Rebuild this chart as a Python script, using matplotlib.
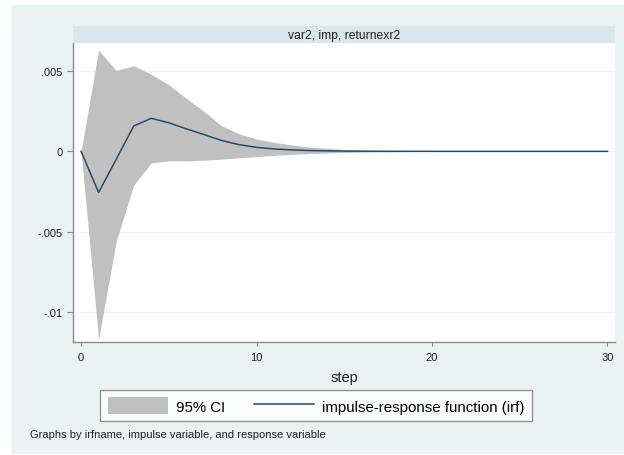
import numpy as np
import matplotlib
matplotlib.use("Agg")
import matplotlib.pyplot as plt
from matplotlib.patches import Rectangle

plt.rcParams['font.family'] = ['Liberation Sans', 'DejaVu Sans']

# data
steps = list(range(31))
irf = [0, -0.00256, -0.0005, 0.00158, 0.00206, 0.00178, 0.0014, 0.00105, 0.00068,
       0.00042, 0.00025, 0.00015, 0.00009, 0.00005, 0.00003, 0.00002, 0.00001,
       0.000006, 0.000003, 0.000002, 0.000001, 0, 0, 0, 0, 0, 0, 0, 0, 0, 0]
upper = [0, 0.0063, 0.00504, 0.00533, 0.0048, 0.00415, 0.0033, 0.0025, 0.0016,
         0.0011, 0.00077, 0.00056, 0.0004, 0.00027, 0.00019, 0.00012, 0.00008,
         0.00005, 0.00003, 0.00002, 0.00001, 0.000006, 0.000004, 0.000002,
         0.000001, 0, 0, 0, 0, 0, 0]
lower = [0, -0.0117, -0.0056, -0.0021, -0.00072, -0.00058, -0.0006, -0.00055,
         -0.00048, -0.0004, -0.00033, -0.00025, -0.00019, -0.00014, -0.0001,
         -0.00007, -0.00005, -0.00003, -0.00002, -0.00001, -0.000006, -0.000003,
         -0.000001, 0, 0, 0, 0, 0, 0, 0, 0]
yticks = [0.005, 0, -0.005, -0.01]
ytick_labels = [".005", "0", "-.005", "-.01"]
xticks = [0, 10, 20, 30]

W, H = 624, 456
fig = plt.figure(figsize=(W / 100, H / 100), dpi=100)
fig.patch.set_facecolor("white")

# graph region background
fig.add_artist(Rectangle((11 / W, 1 / H), 613 / W, 449 / H, transform=fig.transFigure,
                         facecolor="#eaf2f3", edgecolor="none", zorder=0))
# title strip
fig.add_artist(Rectangle((73 / W, 1 - 44 / H), 542 / W, 17 / H, transform=fig.transFigure,
                         facecolor="#d9e6eb", edgecolor="none", zorder=1))
fig.text(344 / W, 1 - 35.5 / H, "var2, imp, returnexr2", ha="center", va="center",
         fontsize=8.7, color="#222222")

ax = fig.add_axes([73 / W, 1 - 343 / H, 542 / W, 299 / H])
ax.set_facecolor("white")

ci = ax.fill_between(steps, lower, upper, color="#c0c0c0", linewidth=0, label="95% CI")
line, = ax.plot(steps, irf, color="#2a4a6b", linewidth=1.1,
                label="impulse-response function (irf)")

ax.set_xlim(-0.46, 30.43)
ax.set_ylim(-0.011875, 0.00675)
ax.set_yticks(yticks)
ax.set_yticklabels(ytick_labels)
ax.set_xticks(xticks)
ax.grid(axis="y", color="#eaf2f3", linewidth=0.9)
ax.set_axisbelow(True)

for s in ["top", "right"]:
    ax.spines[s].set_visible(False)
for s in ["left", "bottom"]:
    ax.spines[s].set_color("#8a8a8a")
    ax.spines[s].set_linewidth(1.0)
ax.tick_params(axis="both", colors="#8a8a8a", labelcolor="#222222", labelsize=8,
               length=4, width=0.8)
ax.tick_params(axis="x", length=3, pad=4)

ax.set_xlabel("step", fontsize=10.5, color="#222222", labelpad=6)

leg = fig.legend(handles=[ci, line], loc="center", bbox_to_anchor=(316 / W, 1 - 406.5 / H),
                 ncol=2, fontsize=10.8, frameon=True, fancybox=False, handlelength=4.0,
                 handleheight=1.3, handletextpad=0.55, columnspacing=1.9, borderpad=0.5,
                 borderaxespad=0)
leg.get_frame().set_edgecolor("#7a7a7a")
leg.get_frame().set_linewidth(1.0)
leg.get_frame().set_facecolor("white")

fig.text(30 / W, 1 - 435 / H, "Graphs by irfname, impulse variable, and response variable",
         ha="left", va="center", fontsize=8, color="#222222")

fig.savefig("out.png", dpi=100)
